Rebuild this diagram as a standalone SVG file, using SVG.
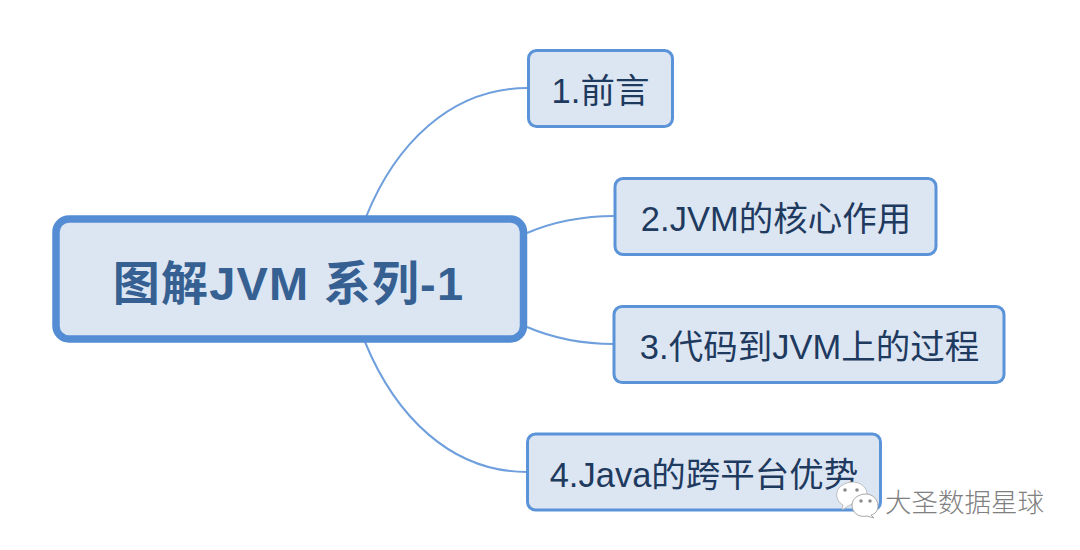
<svg xmlns="http://www.w3.org/2000/svg" width="1080" height="550" viewBox="0 0 1080 550">
  <style>
    text { font-family: "Liberation Sans", "Noto Sans CJK SC", sans-serif; }
    .box { fill: #dce6f2; stroke: #5b93d8; stroke-width: 3; }
    .label { font-size: 34.500px; fill: #1f3a5f; text-anchor: middle; }
    .link { fill: none; stroke: #6f9fdc; stroke-width: 2; }
    .mark { font-size: 26.500px; fill: #808080; font-weight: 300; font-family: "Noto Sans CJK SC", sans-serif; }
    .mark-light { font-size: 26.500px; fill: #fff; font-weight: 300; font-family: "Noto Sans CJK SC", sans-serif; }
    .bubble { fill: #fff; stroke: #a8a8a8; stroke-width: 1; }
    .eye { fill: #8a8a8a; }
  </style>

  <rect width="1080" height="550" fill="#fff"/>

  <g id="connectors">
    <path class="link" d="M366 217 C395 145 450 88 528 88"/>
    <path class="link" d="M527 233 C555 221 585 216 615 216"/>
    <path class="link" d="M527 327 C555 339 585 344 614 344"/>
    <path class="link" d="M365 342 C395 415 450 472 527 472"/>
  </g>

  <g id="root">
    <rect x="56" y="219" width="467.500" height="120" rx="13" fill="#dce6f2" stroke="#548dd4" stroke-width="7.500"/>
    <text x="288.500" y="300" font-size="47" font-weight="700" letter-spacing="1.200" fill="#366092" text-anchor="middle">图解JVM 系列-1</text>
  </g>

  <g id="topic-1">
    <rect class="box" x="528.500" y="50.500" width="144" height="76" rx="8"/>
    <text class="label" x="600.500" y="103">1.前言</text>
  </g>

  <g id="topic-2">
    <rect class="box" x="615" y="178.500" width="321" height="76" rx="8"/>
    <text class="label" x="776" y="231">2.JVM的核心作用</text>
  </g>

  <g id="topic-3">
    <rect class="box" x="614" y="306.500" width="390" height="76" rx="8"/>
    <text class="label" x="809.500" y="359">3.代码到JVM上的过程</text>
  </g>

  <g id="topic-4">
    <rect class="box" x="527.500" y="434" width="353" height="76" rx="8"/>
    <text class="label" x="704" y="487">4.Java的跨平台优势</text>
  </g>

  <g id="watermark">
    <path class="bubble" d="M842 510 L843 505 C835 501 835 490 841 486 C849 480 860 481 865 488 C868 492 867 496 866 498 L850 505 Z" stroke-opacity=".7"/>
    <circle class="eye" cx="845" cy="490" r="1.800"/>
    <circle class="eye" cx="857" cy="490" r="1.800"/>
    <path class="bubble" d="M866 494 C873 494 878 500 878 506 C878 511 875 514 871 515 L874 518 L867 516 C858 518 852 512 852 505 C852 499 858 494 866 494 Z"/>
    <circle class="eye" cx="861" cy="501" r="1.700"/>
    <circle class="eye" cx="870" cy="501" r="1.700"/>
    <text class="mark-light" x="886" y="512.500">大圣数据星球</text>
    <text class="mark" x="885" y="511.500">大圣数据星球</text>
  </g>
</svg>
